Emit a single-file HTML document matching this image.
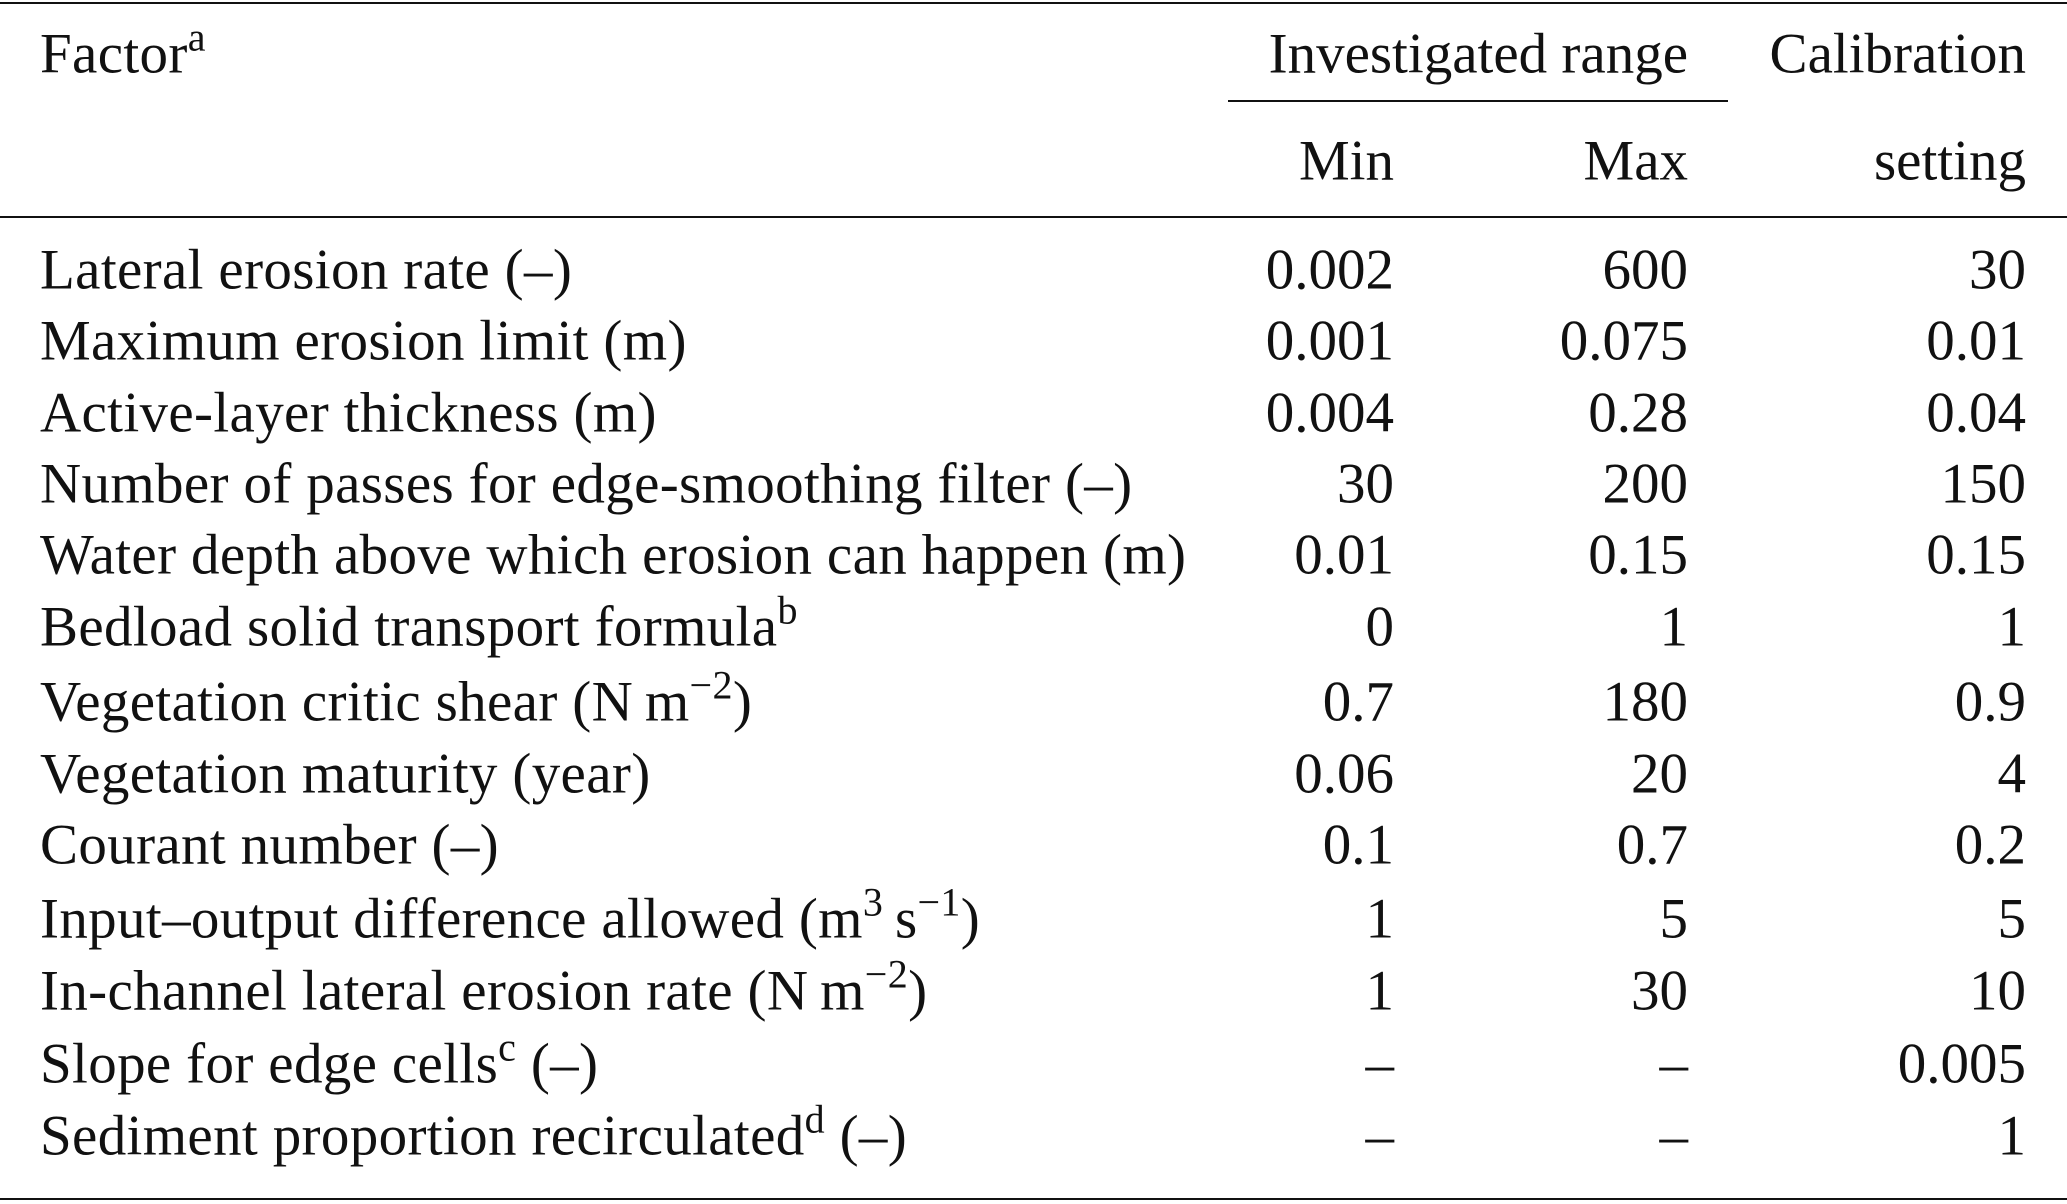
<!DOCTYPE html>
<html><head><meta charset="utf-8"><style>
body{margin:0;width:2067px;height:1204px;background:#fff;position:relative;overflow:hidden;font-family:"Liberation Serif",serif;font-size:57px;color:#111}
.r{position:absolute;height:2px;background:#111}
.t{position:absolute;white-space:nowrap;line-height:1;transform:translateY(-50%)}
.l{left:40px;letter-spacing:0.35px}
.c1,.c2,.c3{text-align:right}
.c1{right:673px}.c2{right:379px}.c3{right:41px}
sup{font-size:40px;vertical-align:0;position:relative;top:-22px}
</style></head><body>
<div class="r" style="top:2px;left:0;width:2067px"></div>
<div class="r" style="top:100px;left:1228px;width:500px"></div>
<div class="r" style="top:216px;left:0;width:2067px"></div>
<div class="r" style="top:1198px;left:0;width:2067px"></div>
<div class="t l" style="top:54px">Factor<sup>a</sup></div>
<div class="t c2" style="top:54px">Investigated range</div>
<div class="t c3" style="top:54px">Calibration</div>
<div class="t c1" style="top:161px">Min</div>
<div class="t c2" style="top:161px">Max</div>
<div class="t c3" style="top:161px">setting</div>

<div class="t l" style="top:270px">Lateral erosion rate (–)</div><div class="t c1" style="top:270px">0.002</div><div class="t c2" style="top:270px">600</div><div class="t c3" style="top:270px">30</div>
<div class="t l" style="top:341px">Maximum erosion limit (m)</div><div class="t c1" style="top:341px">0.001</div><div class="t c2" style="top:341px">0.075</div><div class="t c3" style="top:341px">0.01</div>
<div class="t l" style="top:413px">Active-layer thickness (m)</div><div class="t c1" style="top:413px">0.004</div><div class="t c2" style="top:413px">0.28</div><div class="t c3" style="top:413px">0.04</div>
<div class="t l" style="top:484px">Number of passes for edge-smoothing filter (–)</div><div class="t c1" style="top:484px">30</div><div class="t c2" style="top:484px">200</div><div class="t c3" style="top:484px">150</div>
<div class="t l" style="top:555px">Water depth above which erosion can happen (m)</div><div class="t c1" style="top:555px">0.01</div><div class="t c2" style="top:555px">0.15</div><div class="t c3" style="top:555px">0.15</div>
<div class="t l" style="top:627px">Bedload solid transport formula<sup>b</sup></div><div class="t c1" style="top:627px">0</div><div class="t c2" style="top:627px">1</div><div class="t c3" style="top:627px">1</div>
<div class="t l" style="top:702px">Vegetation critic shear (N&#8201;m<sup>−2</sup>)</div><div class="t c1" style="top:702px">0.7</div><div class="t c2" style="top:702px">180</div><div class="t c3" style="top:702px">0.9</div>
<div class="t l" style="top:774px">Vegetation maturity (year)</div><div class="t c1" style="top:774px">0.06</div><div class="t c2" style="top:774px">20</div><div class="t c3" style="top:774px">4</div>
<div class="t l" style="top:845px">Courant number (–)</div><div class="t c1" style="top:845px">0.1</div><div class="t c2" style="top:845px">0.7</div><div class="t c3" style="top:845px">0.2</div>
<div class="t l" style="top:919px">Input–output difference allowed (m<sup>3</sup>&#8201;s<sup>−1</sup>)</div><div class="t c1" style="top:919px">1</div><div class="t c2" style="top:919px">5</div><div class="t c3" style="top:919px">5</div>
<div class="t l" style="top:991px">In-channel lateral erosion rate (N&#8201;m<sup>−2</sup>)</div><div class="t c1" style="top:991px">1</div><div class="t c2" style="top:991px">30</div><div class="t c3" style="top:991px">10</div>
<div class="t l" style="top:1064px">Slope for edge cells<sup>c</sup> (–)</div><div class="t c1" style="top:1064px">–</div><div class="t c2" style="top:1064px">–</div><div class="t c3" style="top:1064px">0.005</div>
<div class="t l" style="top:1136px">Sediment proportion recirculated<sup>d</sup> (–)</div><div class="t c1" style="top:1136px">–</div><div class="t c2" style="top:1136px">–</div><div class="t c3" style="top:1136px">1</div>
</body></html>
